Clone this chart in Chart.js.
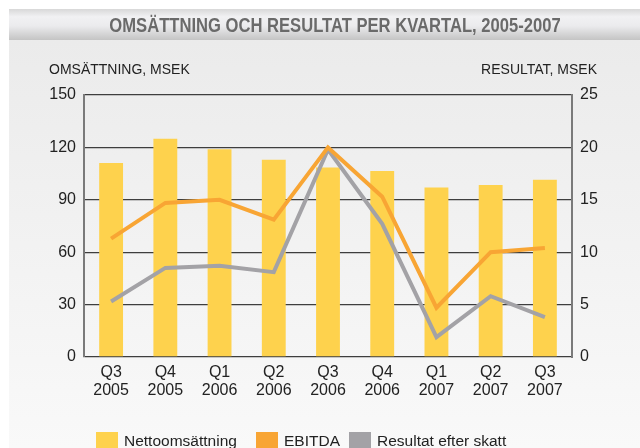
<!DOCTYPE html>
<html>
<head>
<meta charset="utf-8">
<script src="https://cdn.jsdelivr.net/npm/chart.js@4.4.1/dist/chart.umd.min.js"></script>
<style>
  html, body { margin: 0; padding: 0; background: #ffffff; }
  #wrap { width: 640px; height: 448px; position: relative; }
</style>
</head>
<body>
<div id="wrap"><canvas id="c" width="640" height="448"></canvas></div>
<script>
const quarters = [["Q3","2005"],["Q4","2005"],["Q1","2006"],["Q2","2006"],["Q3","2006"],["Q4","2006"],["Q1","2007"],["Q2","2007"],["Q3","2007"]];
const nettoomsattning = [111, 125, 119, 113, 108.5, 106.5, 97, 98.5, 101.5];
const ebitda = [11.3, 14.7, 15.0, 13.1, 20.0, 15.3, 4.7, 10.0, 10.4];
const resultatEfterSkatt = [5.3, 8.5, 8.7, 8.1, 19.8, 12.7, 1.9, 5.8, 3.8];
const leftTicks = [0, 30, 60, 90, 120, 150];
const rightTicks = [0, 5, 10, 15, 20, 25];
const titleText = "OMSÄTTNING OCH RESULTAT PER KVARTAL, 2005-2007";
const leftAxisTitle = "OMSÄTTNING, MSEK";
const rightAxisTitle = "RESULTAT, MSEK";
const legendOrder = ['Nettoomsättning', 'EBITDA', 'Resultat efter skatt'];

const SANS = "'Liberation Sans', Arial, sans-serif";

const decor = {
  id: 'decor',
  beforeDraw(chart) {
    const ctx = chart.ctx;
    ctx.save();
    ctx.fillStyle = '#ffffff';
    ctx.fillRect(0, 0, 640, 448);
    let g = ctx.createLinearGradient(0, 40, 0, 448);
    g.addColorStop(0, '#ebebeb');
    g.addColorStop(1, '#f9f9f9');
    ctx.fillStyle = g;
    ctx.fillRect(9, 40, 631, 408);
    g = ctx.createLinearGradient(0, 9, 0, 40);
    g.addColorStop(0, '#d8d8d8');
    g.addColorStop(0.25, '#f1f1f3');
    g.addColorStop(0.55, '#ebebed');
    g.addColorStop(1, '#c4c4c4');
    ctx.fillStyle = g;
    ctx.fillRect(9, 9, 631, 31);
    ctx.save();
    ctx.translate(335, 32);
    ctx.scale(0.83, 1);
    ctx.fillStyle = '#6a6a6a';
    ctx.font = "bold 20px " + SANS;
    ctx.textAlign = 'center';
    ctx.textBaseline = 'alphabetic';
    ctx.fillText(titleText, 0, 0);
    ctx.restore();
    ctx.fillStyle = '#222222';
    ctx.font = "14px " + SANS;
    ctx.textAlign = 'left';
    ctx.fillText(leftAxisTitle, 49, 73.5);
    ctx.textAlign = 'right';
    ctx.fillText(rightAxisTitle, 597, 73.5);
    ctx.restore();
  },
  afterDraw(chart) {
    const ctx = chart.ctx;
    ctx.save();
    const xs = [96, 256, 349];
    ctx.font = "15.5px " + SANS;
    ctx.textAlign = 'left';
    ctx.textBaseline = 'alphabetic';
    legendOrder.forEach((name, i) => {
      const ds = chart.data.datasets.find(d => d.label === name);
      ctx.fillStyle = ds.legendColor;
      ctx.fillRect(xs[i], 432, 22, 18);
      ctx.fillStyle = '#222222';
      ctx.fillText(ds.label, xs[i] + 28, 446);
    });
    ctx.restore();
  }
};

new Chart(document.getElementById('c'), {
  type: 'bar',
  data: {
    labels: quarters,
    datasets: [
      { type: 'line', label: 'EBITDA', data: ebitda, yAxisID: 'y1', borderColor: '#f8a534', backgroundColor: '#f8a534', legendColor: '#f8a534', borderWidth: 4, pointRadius: 0, tension: 0, order: 1, borderJoinStyle: 'miter', borderCapStyle: 'butt' },
      { type: 'line', label: 'Resultat efter skatt', data: resultatEfterSkatt, yAxisID: 'y1', borderColor: '#a3a2a6', backgroundColor: '#a3a2a6', legendColor: '#a3a2a6', borderWidth: 4, pointRadius: 0, tension: 0, order: 2, borderJoinStyle: 'miter' },
      { type: 'bar', label: 'Nettoomsättning', data: nettoomsattning, yAxisID: 'y', backgroundColor: '#fed24d', legendColor: '#fed24d', borderWidth: 0, barPercentage: 0.44, categoryPercentage: 1, order: 3 }
    ]
  },
  options: {
    responsive: false,
    animation: false,
    devicePixelRatio: 1,
    layout: { padding: { top: 95, bottom: 0, left: 0, right: 0 } },
    plugins: { legend: { display: false }, title: { display: false }, tooltip: { enabled: false } },
    scales: {
      x: {
        offset: true,
        grid: { display: false, drawTicks: false },
        border: { display: false },
        ticks: { color: '#222222', font: { family: SANS, size: 16, lineHeight: 1.125 }, padding: 7, maxRotation: 0, autoSkip: false },
        afterFit(s) { s.height = 91; }
      },
      y: {
        position: 'left', min: 0, max: 150,
        afterBuildTicks(s) { s.ticks = leftTicks.map(v => ({ value: v })); },
        grid: { color: '#3e3e3e', lineWidth: 1.3, drawTicks: false },
        border: { display: true, color: '#7a7a7a', width: 2 },
        ticks: { color: '#222222', font: { family: SANS, size: 16 }, padding: 8 },
        afterFit(s) { s.width = 84; }
      },
      y1: {
        position: 'right', min: 0, max: 25,
        afterBuildTicks(s) { s.ticks = rightTicks.map(v => ({ value: v })); },
        grid: { display: false, drawTicks: false },
        border: { display: true, color: '#7a7a7a', width: 2 },
        ticks: { color: '#222222', font: { family: SANS, size: 16 }, padding: 8 },
        afterFit(s) { s.width = 68; }
      }
    }
  },
  plugins: [decor]
});
</script>
</body>
</html>
